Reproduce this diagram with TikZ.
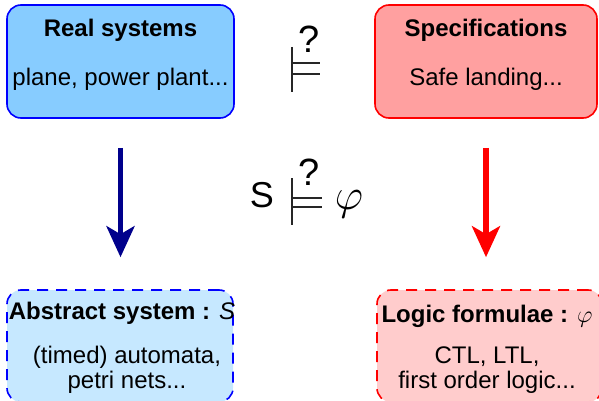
\RequirePackage{fix-cm}
\documentclass[tikz,border=0pt]{standalone}
\usepackage{amsmath,amssymb}
\usepackage{fontspec}
\setmainfont{Liberation Sans}
\usetikzlibrary{positioning,arrows.meta}
\usepackage{xcolor}
\definecolor{realfill}{RGB}{135,204,255}
\definecolor{specfill}{RGB}{255,160,160}
\definecolor{absfill}{RGB}{198,232,255}
\definecolor{logicfill}{RGB}{255,204,204}
\definecolor{navyarrow}{RGB}{0,0,140}

\begin{document}
\begin{tikzpicture}[x=1pt, y=-1pt, every node/.style={font=\fontsize{24}{25}\selectfont, inner sep=0pt},
  box/.style={rounded corners=14pt, line width=1.6pt},
  turnstile/.style={line width=1.5pt, black!85},
  bigarrow/.style={line width=5.5pt, -{Stealth[length=31pt,width=28pt,inset=8pt]}, shorten <=29pt, shorten >=32pt}]
\useasboundingbox (0,0) rectangle (599,401);
% boxes
\node[box, draw=blue, fill=realfill, minimum width=227pt, minimum height=113pt] (real) at (120.5,61.5) {};
\node[box, draw=red, fill=specfill, minimum width=222pt, minimum height=113pt] (spec) at (486,61.5) {};
\node[box, draw=blue, dashed, dash pattern=on 11pt off 8pt, fill=absfill, minimum width=226pt, minimum height=112pt] (abs) at (120,346) {};
\node[box, draw=red, dashed, dash pattern=on 11pt off 8pt, fill=logicfill, minimum width=225pt, minimum height=112pt] (logic) at (489.5,346) {};
% texts
\node (realtitle) at (120.5,30) {\bfseries Real systems};
\node (realbody) at (120.5,79) {plane, power plant...};
\node (spectitle) at (486,30) {\bfseries Specifications};
\node (specbody) at (486,79) {Safe landing...};
\node (abstitle) at (122,313) {\bfseries Abstract system : \normalfont\itshape S};
\node[align=center] (absbody) at (127,370) {(timed) automata,\\petri nets...};
\node (logictitle) at (487,316) {\bfseries Logic formulae : $\varphi$};
\node[align=center] (logicbody) at (487,370) {CTL, LTL,\\first order logic...};
% satisfaction symbols
\coordinate (sat1) at (292,47);
\draw[turnstile] (sat1) -- ++(0,45);
\draw[turnstile] ([yshift=-16pt]sat1) -- ++(28,0);
\draw[turnstile] ([yshift=-27pt]sat1) -- ++(28,0);
\node[font=\fontsize{38}{38}\selectfont] (q1) at (309,39) {?};
\node[font=\fontsize{36}{36}\selectfont] (S) at (262,195.5) {S};
\coordinate (sat2) at (292,178);
\draw[turnstile] (sat2) -- ++(0,47);
\draw[turnstile] ([yshift=-20pt]sat2) -- ++(30,0);
\draw[turnstile] ([yshift=-29pt]sat2) -- ++(30,0);
\node[font=\fontsize{38}{38}\selectfont] (q2) at (309,172) {?};
\node[font=\fontsize{44}{44}\selectfont] (phi) at (349,204) {$\varphi$};
% arrows
\draw[bigarrow, navyarrow] (real.south) -- (real.south |- abs.north);
\draw[bigarrow, red] (spec.south) -- (spec.south |- logic.north);
\end{tikzpicture}
\end{document}
